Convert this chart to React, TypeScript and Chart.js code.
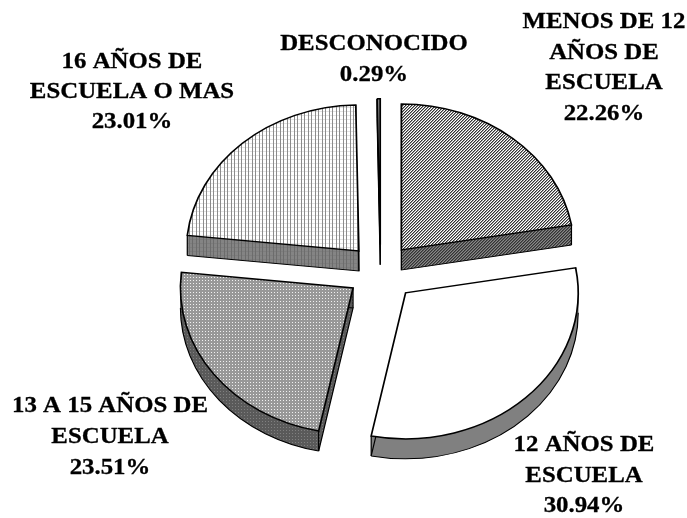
import React, { useEffect, useRef } from "react";
import { Chart, registerables } from "chart.js";

Chart.register(...registerables);

const categories = ["MENOS DE 12 AÑOS DE ESCUELA", "12 AÑOS DE ESCUELA", "13 A 15 AÑOS DE ESCUELA", "16 AÑOS DE ESCUELA O MAS", "DESCONOCIDO"];
const shares = [22.26, 30.94, 23.51, 23.01, 0.29];
const labelLines = [
  ["MENOS DE 12", "AÑOS DE", "ESCUELA", "22.26%"],
  ["12 AÑOS DE", "ESCUELA", "30.94%"],
  ["13 A 15 AÑOS DE", "ESCUELA", "23.51%"],
  ["16 AÑOS DE", "ESCUELA O MAS", "23.01%"],
  ["DESCONOCIDO", "0.29%"],
];
const labelCenters = [
  [604, 22],
  [584, 445],
  [110, 406],
  [132, 62],
  [374, 44],
];
const lineHeights = [30.7, 30.7, 31, 30, 31];
const explode = [32.5, 36, 34, 32, 31];

const FLATTEN = 0.846;
const DEPTH = 20;
const RADIUS = 172.6;
const BORDER = 1.7;
const WALL_BORDER = 1.2;
const TEXT_STRETCH = 1.08;

function makePattern(rows: string[], palette: Record<string, string>) {
  const c = document.createElement("canvas");
  c.height = rows.length;
  c.width = rows[0].length;
  const g = c.getContext("2d")!;
  rows.forEach((r, y) =>
    r.split("").forEach((ch, x) => {
      g.fillStyle = palette[ch];
      g.fillRect(x, y, 1, 1);
    })
  );
  return document.createElement("canvas").getContext("2d")!.createPattern(c, "repeat")!;
}

const DIAG = ["acb", "cba", "bac"];
const DOTS = ["aaa", "aba", "aaa"];
const LINES = ["abbabbb", "abbabbb", "abbabbb", "addaddd"];

function faces() {
  return [
    makePattern(DIAG, { a: "#333333", b: "#ffffff", c: "#999999" }),
    "#ffffff",
    makePattern(DOTS, { a: "#989898", b: "#f0f0f0" }),
    makePattern(LINES, { a: "#8c8c8c", b: "#ffffff", d: "#e2e2e2" }),
    "#808080",
  ];
}
function walls() {
  return [
    makePattern(DIAG, { a: "#333333", b: "#888888", c: "#5c5c5c" }),
    "#808080",
    makePattern(DOTS, { a: "#5a5a5a", b: "#808080" }),
    makePattern(LINES, { a: "#6c6c6c", b: "#848484", d: "#7c7c7c" }),
    "#808080",
  ];
}

const explodedPie = {
  id: "explodedPie",
  beforeDatasetDraw(chart: any) {
    const ctx: CanvasRenderingContext2D = chart.ctx;
    const arcs = chart.getDatasetMeta(0).data;
    const sides = walls();
    ctx.imageSmoothingEnabled = false;

    const place = (arc: any, i: number, dy: number) => {
      const mid = (arc.startAngle + arc.endAngle) / 2;
      ctx.translate(Math.cos(mid) * explode[i], Math.sin(mid) * explode[i] * FLATTEN + dy);
      ctx.translate(arc.x, arc.y);
      ctx.scale(1, FLATTEN);
      ctx.translate(-arc.x, -arc.y);
    };
    const paint = (arc: any, fill: any, stroke: any, width: number) => {
      const original = arc.options;
      const o = Object.create(original);
      o.backgroundColor = fill;
      o.borderColor = stroke;
      o.borderWidth = width;
      o.borderJoinStyle = "miter";
      arc.options = o;
      if (fill && fill.setTransform) fill.setTransform(ctx.getTransform().inverse());
      arc.draw(ctx);
      arc.options = original;
    };

    arcs.forEach((arc: any, i: number) => {
      for (let dy = DEPTH; dy >= 1; dy--) {
        ctx.save();
        place(arc, i, dy);
        paint(arc, sides[i], "rgba(0,0,0,0)", 0);
        ctx.restore();
      }
      const at = (a: number) => [arc.x + Math.cos(a) * arc.outerRadius, arc.y + Math.sin(a) * arc.outerRadius];
      const [sx, sy] = at(arc.startAngle);
      const [ex, ey] = at(arc.endAngle);

      // wall outline: lower rim and the cut edges, then the vertical corners
      ctx.save();
      place(arc, i, DEPTH);
      ctx.strokeStyle = "#000000";
      ctx.lineWidth = WALL_BORDER;
      ctx.beginPath();
      ctx.moveTo(sx, sy);
      ctx.lineTo(arc.x, arc.y);
      ctx.lineTo(ex, ey);
      const from = Math.max(arc.startAngle, 0);
      const to = Math.min(arc.endAngle, Math.PI);
      if (to > from) {
        ctx.moveTo(...(at(from) as [number, number]));
        ctx.arc(arc.x, arc.y, arc.outerRadius, from, to);
      }
      ctx.stroke();
      ctx.restore();

      ctx.save();
      place(arc, i, 0);
      ctx.strokeStyle = "#000000";
      ctx.lineWidth = WALL_BORDER;
      ctx.beginPath();
      [[arc.x, arc.y], [sx, sy], [ex, ey]].forEach(([x, y]) => {
        ctx.moveTo(x, y);
        ctx.lineTo(x, y + DEPTH / FLATTEN);
      });
      ctx.stroke();
      ctx.restore();

      ctx.save();
      place(arc, i, 0);
      paint(arc, arc.options.backgroundColor, "#000000", BORDER);
      ctx.restore();
    });
    return false;
  },
  afterDraw(chart: any) {
    const ctx: CanvasRenderingContext2D = chart.ctx;
    ctx.save();
    ctx.fillStyle = "#000000";
    ctx.strokeStyle = "#000000";
    ctx.lineWidth = 0.3;
    ctx.font = 'bold 23px "Liberation Serif"';
    ctx.textAlign = "center";
    ctx.textBaseline = "middle";
    labelLines.forEach((lines, i) => {
      lines.forEach((line, j) => {
        ctx.save();
        ctx.translate(labelCenters[i][0], labelCenters[i][1] + j * lineHeights[i]);
        ctx.scale(TEXT_STRETCH, 1);
        ctx.fillText(line, 0, 0);
        ctx.strokeText(line, 0, 0);
        ctx.restore();
      });
    });
    ctx.restore();
  },
};

export default function App() {
  const ref = useRef<HTMLCanvasElement>(null);
  useEffect(() => {
    const chart = new Chart(ref.current!, {
      type: "pie",
      data: {
        labels: categories,
        datasets: [
          {
            data: shares,
            backgroundColor: faces() as any,
            borderColor: "#000000",
            borderWidth: BORDER,
            hoverOffset: 0,
          },
        ],
      },
      options: {
        animation: false,
        responsive: false,
        events: [],
        radius: RADIUS,
        rotation: 0,
        layout: { padding: { left: 74, top: 24, right: 0, bottom: 0 } },
        plugins: { legend: { display: false }, tooltip: { enabled: false }, title: { display: false } },
      } as any,
      plugins: [explodedPie as any],
    });
    return () => chart.destroy();
  }, []);
  return (
    <canvas
      ref={ref}
      width={687}
      height={518}
      style={{ position: "absolute", left: 0, top: 0, display: "block", width: 687, height: 518 }}
    />
  );
}
